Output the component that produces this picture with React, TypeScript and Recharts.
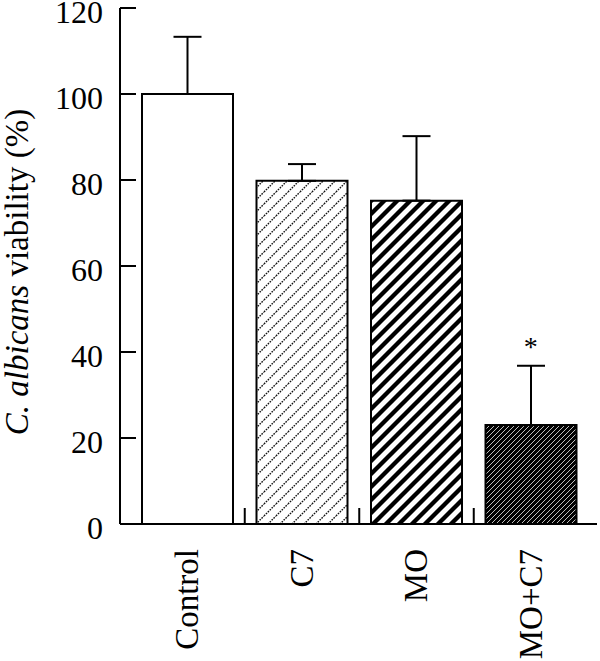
import React from 'react';
import { ComposedChart, Bar, Line, XAxis, YAxis, ErrorBar, Cell, LabelList } from 'recharts';

const categories = ['Control', 'C7', 'MO', 'MO+C7'];
const viability = [100, 79.8, 75.2, 23];
const errorUp = [13.3, 3.9, 15, 13.8];
const significance = ['', '', '', '*'];
const yTicks = [0, 20, 40, 60, 80, 100, 120];

const FILLS = ['#ffffff', 'url(#hatchC7)', 'url(#hatchMO)', 'url(#hatchMOC7)'];

const data = categories.map((c, i) => ({
  name: c,
  value: viability[i],
  err: [0, errorUp[i]],
  top: viability[i] + errorUp[i],
  sig: significance[i],
}));

const FONT = '"Liberation Serif", "Times New Roman", serif';
const HALF_BAND = 57;

const YTick = (props: any) => {
  const { x, y, payload } = props;
  return (
    <g>
      <line x1={x} x2={x + 16} y1={y} y2={y} stroke="#000" strokeWidth={2} />
      <text x={x - 17} y={y + 15} textAnchor="end" fontFamily={FONT} fontSize={32} fill="#000">
        {payload.value}
      </text>
    </g>
  );
};

const XTick = (props: any) => {
  const { x, y, payload, index } = props;
  const ty = y + 25;
  return (
    <g>
      {index > 0 && (
        <line x1={x - HALF_BAND} x2={x - HALF_BAND} y1={y - 16} y2={y} stroke="#000" strokeWidth={2} />
      )}
      <text
        x={x}
        y={ty}
        dy="0.34em"
        textAnchor="end"
        transform={`rotate(-90, ${x}, ${ty})`}
        fontFamily={FONT}
        fontSize={33}
        fill="#000"
      >
        {payload.value}
      </text>
    </g>
  );
};

const YLabel = (props: any) => {
  const vb = props.viewBox || { x: 0, y: 8, width: 120, height: 516 };
  const cx = vb.x + 28;
  const cy = vb.y + vb.height / 2 + 6;
  return (
    <text
      x={cx}
      y={cy}
      textAnchor="middle"
      transform={`rotate(-90, ${cx}, ${cy})`}
      fontFamily={FONT}
      fontSize={33}
      fill="#000"
    >
      <tspan fontStyle="italic">C. albicans</tspan>
      <tspan> viability (%)</tspan>
    </text>
  );
};

const StarLabel = (props: any) => {
  const { x, y, value } = props;
  if (!value) return null;
  return (
    <text x={x} y={y - 10} textAnchor="middle" fontFamily={FONT} fontSize={28} fill="#000">
      {value}
    </text>
  );
};

export default function App() {
  return (
    <div style={{ position: 'absolute', left: 0, top: 0, width: 600, height: 661, background: '#fff' }}>
      <ComposedChart
        width={600}
        height={661}
        data={data}
        margin={{ top: 8, right: 3, left: 0, bottom: 0 }}
      >
        <defs>
          <pattern id="hatchC7" width={12} height={12} patternUnits="userSpaceOnUse">
            <rect width={12} height={12} fill="#fff" />
            <path
              d="M-3,3 L3,-3 M0,12 L12,0 M9,15 L15,9"
              stroke="#111"
              strokeWidth={1.4}
              strokeDasharray="1.6 1.1"
            />
          </pattern>
          <pattern id="hatchMO" width={13} height={13} patternUnits="userSpaceOnUse">
            <rect width={13} height={13} fill="#fff" />
            <path
              d="M-3.25,3.25 L3.25,-3.25 M0,13 L13,0 M9.75,16.25 L16.25,9.75"
              stroke="#000"
              strokeWidth={4.3}
            />
          </pattern>
          <pattern id="hatchMOC7" width={5} height={5} patternUnits="userSpaceOnUse">
            <rect width={5} height={5} fill="#000" />
            <path
              d="M-1.25,1.25 L1.25,-1.25 M0,5 L5,0 M3.75,6.25 L6.25,3.75"
              stroke="#fff"
              strokeOpacity={0.75}
              strokeWidth={1}
            />
          </pattern>
        </defs>
        <XAxis
          dataKey="name"
          type="category"
          height={137}
          padding={{ left: 10, right: 9 }}
          axisLine={{ stroke: '#000', strokeWidth: 2 }}
          tickLine={false}
          tickSize={0}
          tickMargin={0}
          interval={0}
          tick={<XTick />}
        />
        <XAxis
          xAxisId="top"
          dataKey="name"
          orientation="top"
          height={0}
          tick={false}
          tickLine={false}
          axisLine={{ stroke: '#000', strokeWidth: 2 }}
        />
        <YAxis
          domain={[0, 120]}
          ticks={yTicks}
          width={120}
          interval={0}
          axisLine={{ stroke: '#000', strokeWidth: 2 }}
          tickLine={false}
          tickSize={0}
          tickMargin={0}
          tick={<YTick />}
          label={<YLabel />}
        />
        <YAxis
          yAxisId="right"
          orientation="right"
          width={0}
          tick={false}
          tickLine={false}
          axisLine={{ stroke: '#000', strokeWidth: 2 }}
        />
        <Bar dataKey="value" barSize={91} stroke="#000" strokeWidth={2} isAnimationActive={false}>
          {data.map((d, i) => (
            <Cell key={d.name} fill={FILLS[i]} />
          ))}
          <ErrorBar dataKey="err" width={14} stroke="#000" strokeWidth={2} direction="y" />
        </Bar>
        <Line
          dataKey="top"
          stroke="none"
          dot={false}
          activeDot={false}
          legendType="none"
          isAnimationActive={false}
        >
          <LabelList dataKey="sig" content={<StarLabel />} />
        </Line>
      </ComposedChart>
    </div>
  );
}
